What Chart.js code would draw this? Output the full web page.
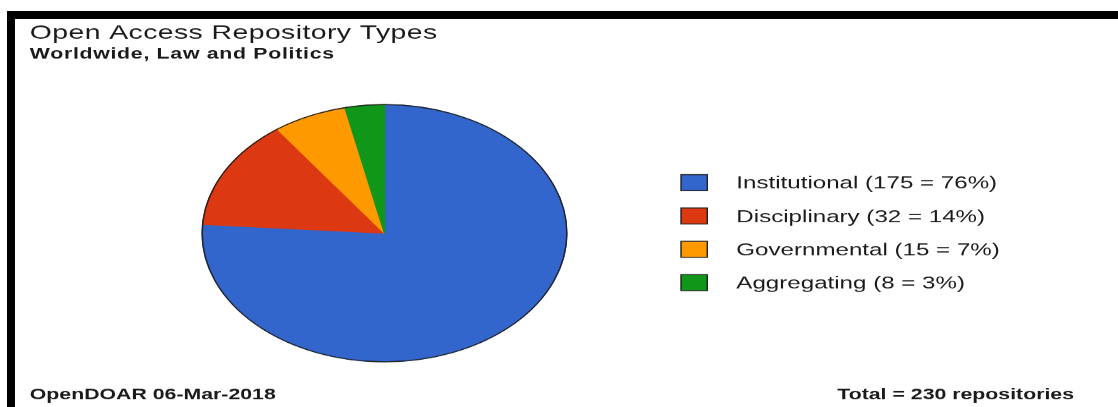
<!DOCTYPE html>
<html lang="en">
<head>
  <meta charset="UTF-8">
  <title>Open Access Repository Types</title>
  <script src="https://cdn.jsdelivr.net/npm/chart.js"></script>
  <style>
    body {
      margin: 0;
      background-color: #fff;
    }

    #marco {
      position: relative;
      width: 1118px;
      height: 407px;
      overflow: hidden;
    }

    #grafico {
      position: absolute;
      left: 0;
      top: 0;
    }

    #borde {
      position: absolute;
      left: 7px;
      top: 11px;
      right: -20px;
      bottom: -20px;
      border-top: 8px solid #000;
      border-left: 8px solid #000;
      pointer-events: none;
    }
  </style>
</head>
<body>

<div id="marco">
  <!-- drawn 788 wide and shown 1118 wide, so the pie comes out as a wide ellipse -->
  <canvas id="grafico" width="788" height="407" style="width: 1118px; height: 407px;"></canvas>
  <div id="borde"></div>
</div>

<script>
  var tipos = ['Institutional', 'Disciplinary', 'Governmental', 'Aggregating'];
  var repositorios = [175, 32, 15, 8];
  var colores = ['#3366cc', '#dc3912', '#ff9900', '#109618'];

  var titulo = 'Open Access Repository Types';
  var subtitulo = 'Worldwide, Law and Politics';
  var fuente = 'OpenDOAR 06-Mar-2018';

  var total = repositorios.reduce(function (a, b) { return a + b; }, 0);
  var familia = '"Liberation Sans", Arial, sans-serif';

  // thin dark rim around the whole pie
  var contorno = {
    id: 'contorno',
    afterDatasetsDraw: function (chart) {
      var arco = chart.getDatasetMeta(0).data[0];
      var ctx = chart.ctx;
      ctx.save();
      ctx.beginPath();
      ctx.arc(arco.x, arco.y, arco.outerRadius, 0, Math.PI * 2);
      ctx.strokeStyle = '#222';
      ctx.lineWidth = 1;
      ctx.stroke();
      ctx.restore();
    }
  };

  // titles, legend on the right and the two footer lines
  var textos = {
    id: 'textos',
    afterDraw: function (chart) {
      var ctx = chart.ctx;
      ctx.save();
      ctx.fillStyle = '#1a1a1a';
      ctx.textBaseline = 'alphabetic';

      ctx.font = '20px ' + familia;
      ctx.letterSpacing = '0.3px';
      ctx.fillText(titulo, 21, 39);

      ctx.font = 'bold 15px ' + familia;
      ctx.letterSpacing = '0.5px';
      ctx.fillText(subtitulo, 21, 58.5);
      ctx.letterSpacing = '0px';

      ctx.font = '17px ' + familia;
      for (var i = 0; i < tipos.length; i++) {
        var yc = 182.5 + i * 33.3;
        var pct = Math.round(repositorios[i] / total * 100);
        ctx.fillStyle = colores[i];
        ctx.fillRect(480, yc - 8, 18.5, 16);
        ctx.strokeStyle = '#222';
        ctx.lineWidth = 1;
        ctx.strokeRect(480, yc - 8, 18.5, 16);
        ctx.fillStyle = '#1a1a1a';
        ctx.fillText(tipos[i] + ' (' + repositorios[i] + ' = ' + pct + '%)', 519, yc + 6);
      }

      ctx.font = 'bold 15px ' + familia;
      ctx.fillText(fuente, 21, 399);
      ctx.textAlign = 'right';
      ctx.fillText('Total = ' + total + ' repositories', 757, 399);
      ctx.restore();
    }
  };

  var ctx = document.getElementById('grafico').getContext('2d');

  var grafico = new Chart(ctx, {
    type: 'pie',
    data: {
      labels: tipos,
      datasets: [{
        data: repositorios,
        backgroundColor: colores,
        borderColor: colores,
        borderWidth: 1
      }]
    },
    options: {
      responsive: false,
      devicePixelRatio: 1.4188,
      animation: false,
      layout: {
        padding: { top: 104, bottom: 45, left: 142, right: 388 }
      },
      plugins: {
        legend: { display: false },
        tooltip: { enabled: false }
      }
    },
    plugins: [contorno, textos]
  });
</script>

</body>
</html>
